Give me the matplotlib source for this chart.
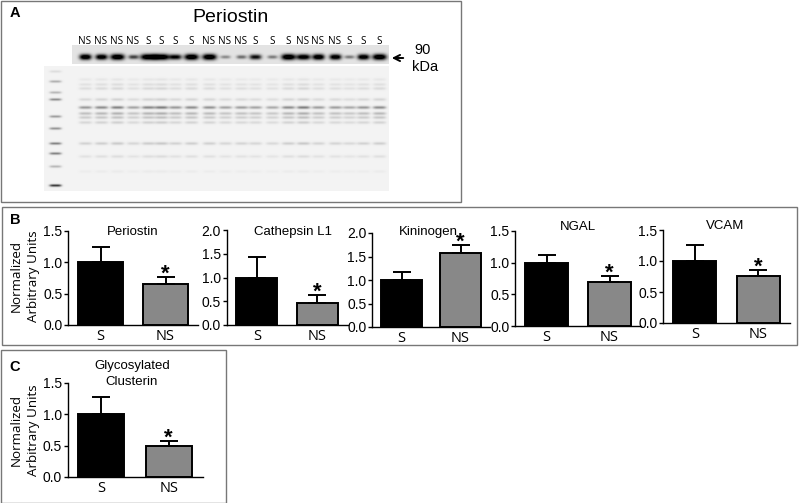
import numpy as np
import matplotlib
matplotlib.use('Agg')
import matplotlib.pyplot as plt
from matplotlib.patches import Rectangle

W, H = 800, 503
SANS = 'Liberation Sans'
LABEL = 'Open Sans'

# blot lanes, left to right
lane_labels = ['NS', 'NS', 'NS', 'NS', 'S', 'S', 'S', 'S', 'NS', 'NS',
               'NS', 'S', 'S', 'S', 'NS', 'NS', 'NS', 'S', 'S', 'S']
lane_x = [85, 101, 117, 133, 148, 161, 175, 191, 209, 225,
          241, 255, 272, 288, 303, 318, 335, 349, 363, 379]
band_dark = [.95, .9, 1.0, .55, 1.0, 1.0, .8, 1.0, 1.0, .3,
             .4, .75, .35, 1.0, .9, .95, .9, .35, .9, 1.0]
band_width = [6, 6, 7, 5, 8, 8, 6, 7, 7, 5,
              5, 6, 5, 7, 7, 6, 6, 5, 6, 7]
# total-protein stain: rows of the lower gel and how strong each lane loads
stain_y = [79, 84, 88, 99, 107, 113, 117, 122, 143, 156, 171]
stain_dark = [.05, .08, .10, .12, .42, .24, .18, .13, .15, .08, .03]
lane_load = [.8, .9, 1.0, .7, .95, 1.05, .8, .9, .85, .7,
             .75, .7, .65, .9, 1.05, .75, .75, .65, .8, .9]
ladder_y = [71, 81, 92, 99, 116, 128, 143, 153, 166, 185]
ladder_dark = [.08, .25, .22, .38, .32, .35, .42, .42, .22, .7]

# bar panels
group_labels = ['S', 'NS']
titles = ['Periostin', 'Cathepsin L1', 'Kininogen', 'NGAL', 'VCAM',
          'Glycosylated\nClusterin']
means = [[1.0, .65], [1.0, .47], [1.0, 1.57], [1.0, .70], [1.0, .76], [1.0, .50]]
err_top = [[1.24, .77], [1.44, .64], [1.16, 1.75], [1.12, .79], [1.26, .86],
           [1.28, .58]]
y_max = [1.5, 2.0, 2.0, 1.5, 1.5, 1.5]
y_steps = [.5, .5, .5, .5, .5, .5]

# left, right, top, bottom of each plot in pixels
boxes = [(68, 198, 231, 325), (226.5, 347.5, 230, 325), (372, 490, 233, 327),
         (515, 641, 231, 326), (663, 790, 230, 323), (67.5, 202.5, 383, 477)]
title_pos = [(133, 232), (293, 232), (428, 232), (578, 227), (725, 226), (132, 374)]


def gel_image():
    """Build the blot as a grey image from the band lists above."""
    xs, ys = np.meshgrid(np.arange(W), np.arange(H))
    img = np.ones((H, W))

    strip = (xs >= 72) & (xs <= 388) & (ys >= 45) & (ys <= 63)
    lower = (xs >= 44) & (xs <= 388) & (ys >= 66) & (ys <= 190)
    img[strip] = .89
    img[lower] = .95

    top = np.zeros((H, W))
    for x, d, w in zip(lane_x, band_dark, band_width):
        top += d * np.exp(-np.abs((xs - x) / w) ** 3 - ((ys - 56.5) / (1.2 + 1.8 * d)) ** 2)
    img[strip] -= .89 * np.clip(top[strip] * 1.3, 0, 1)

    low = np.zeros((H, W))
    for x, load in zip(lane_x, lane_load):
        for y, d in zip(stain_y, stain_dark):
            low += load * d * np.exp(-((xs - x) / 6.5) ** 4 - ((ys - y) / 1.5) ** 2)
    for y, d in zip(ladder_y, ladder_dark):
        low += d * np.exp(-((xs - 55) / 6) ** 4 - ((ys - y) / 1.3) ** 2)
    img[lower] -= np.clip(low[lower], 0, .9)
    return img


fig = plt.figure(figsize=(W / 100, H / 100), dpi=100)

# pixel-coordinate layer for the blot, frames and loose text
bg = fig.add_axes([0, 0, 1, 1])
bg.set_xlim(0, W)
bg.set_ylim(H, 0)
bg.axis('off')
bg.imshow(gel_image(), cmap='gray', vmin=0, vmax=1, extent=(0, W, H, 0),
          aspect='auto', interpolation='bilinear')

for x0, y0, x1, y1 in [(1, 1, 461, 202), (2, 207, 797, 345), (1, 350, 226, 503)]:
    bg.add_patch(Rectangle((x0, y0), x1 - x0, y1 - y0, fill=False,
                           edgecolor='#777777', linewidth=1.0))

bg.text(15, 13, 'A', fontsize=10.5, fontweight='bold', family=SANS, ha='center', va='center')
bg.text(15, 220, 'B', fontsize=10.5, fontweight='bold', family=SANS, ha='center', va='center')
bg.text(15, 367, 'C', fontsize=10.5, fontweight='bold', family=SANS, ha='center', va='center')
bg.text(230, 17, 'Periostin', fontsize=14, family=SANS, ha='center', va='center')
for x, lab in zip(lane_x, lane_labels):
    bg.text(x, 41.5, lab, fontsize=7.2, family=LABEL, ha='center', va='center')
bg.text(423, 50, '90', fontsize=10.5, family=SANS, ha='center', va='center')
bg.text(425, 67, 'kDa', fontsize=10.5, family=SANS, ha='center', va='center')
bg.annotate('', xy=(389, 58), xytext=(406, 58),
            arrowprops=dict(arrowstyle='->', color='black', lw=1.4, mutation_scale=11))

bg.text(16, 276, 'Normalized', fontsize=9.6, family=LABEL, rotation=90, ha='center', va='center')
bg.text(34, 276, 'Arbitrary Units', fontsize=9.6, family=LABEL, rotation=90, ha='center', va='center')
bg.text(16, 430, 'Normalized', fontsize=9.6, family=LABEL, rotation=90, ha='center', va='center')
bg.text(34, 430, 'Arbitrary Units', fontsize=9.6, family=LABEL, rotation=90, ha='center', va='center')

for i, title in enumerate(titles):
    left, right, top, bottom = boxes[i]
    ax = fig.add_axes([left / W, 1 - bottom / H, (right - left) / W, (bottom - top) / H])
    ax.patch.set_alpha(0)

    ax.bar([0, 1], means[i], width=.68, color=['black', '#888888'],
           edgecolor='black', linewidth=1.4)
    for x in [0, 1]:
        ax.errorbar(x, means[i][x], yerr=[[0], [err_top[i][x] - means[i][x]]],
                    color='black', capsize=6.5, capthick=1.4, elinewidth=1.4, zorder=1)
    ax.annotate('*', xy=(1, err_top[i][1]), xytext=(0, -2), textcoords='offset points',
                fontsize=16, fontweight='bold', family=SANS, ha='center', va='baseline',
                annotation_clip=False)

    ax.set_xlim(-.5, 1.5)
    ax.set_ylim(0, y_max[i])
    ax.set_yticks(np.arange(0, y_max[i] + .01, y_steps[i]))
    ax.set_yticklabels(['%.1f' % t for t in ax.get_yticks()], fontsize=10, family=SANS)
    ax.set_xticks([0, 1])
    ax.set_xticklabels(group_labels, fontsize=10.5, family=LABEL)
    ax.tick_params(axis='y', length=3, width=1.0, pad=1)
    ax.tick_params(axis='x', length=0, pad=3)
    ax.spines['top'].set_visible(False)
    ax.spines['right'].set_visible(False)
    ax.spines['left'].set_linewidth(1.0)
    ax.spines['bottom'].set_linewidth(1.0)

    bg.text(title_pos[i][0], title_pos[i][1], title, fontsize=9.5, family=SANS,
            ha='center', va='center', linespacing=1.45)

fig.savefig('out.png', dpi=100)
